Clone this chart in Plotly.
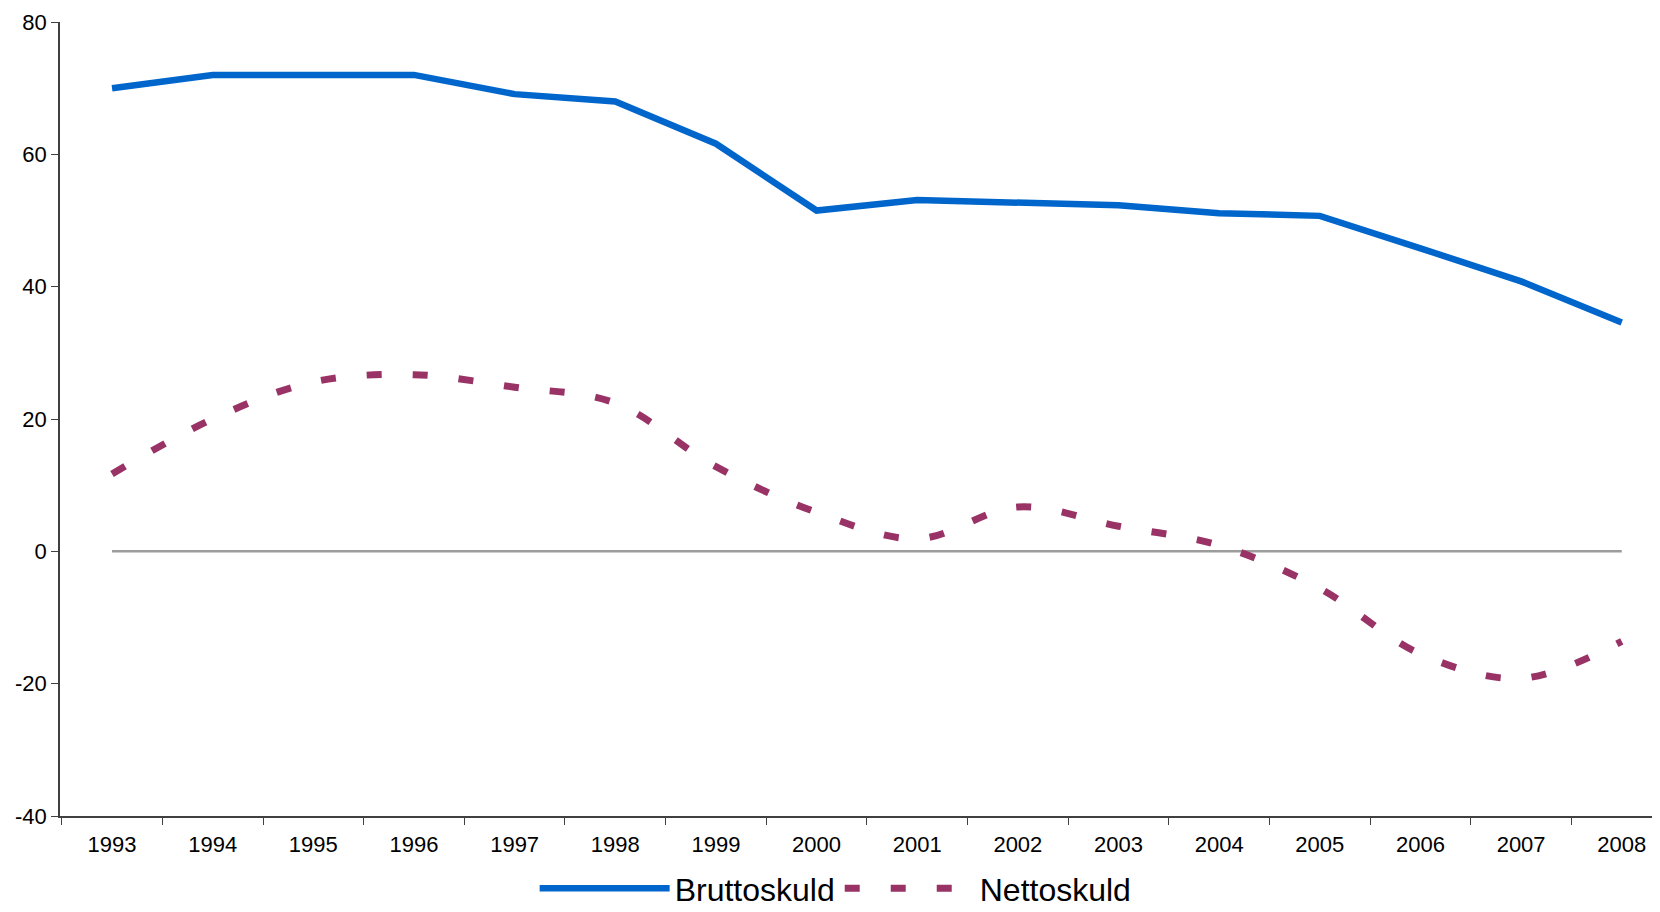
import plotly.graph_objects as go

years = ["1993", "1994", "1995", "1996", "1997", "1998", "1999", "2000",
         "2001", "2002", "2003", "2004", "2005", "2006", "2007", "2008"]
brutto = [70.0, 72.0, 72.0, 72.0, 69.1, 68.0, 61.6, 51.5,
          53.1, 52.7, 52.3, 51.1, 50.7, 45.8, 40.8, 34.6]
netto = [11.7, 20.0, 25.6, 26.7, 24.8, 22.4, 12.8, 5.9,
         1.9, 6.7, 3.8, 0.9, -5.6, -15.5, -19.2, -13.6]
zero_ref = [0] * len(years)
y_ticks = [-40, -20, 0, 20, 40, 60, 80]
y_tick_labels = ["-40", "-20", "0", "20", "40", "60", "80"]

fig = go.Figure()
fig.add_trace(go.Scatter(x=years, y=zero_ref, mode="lines",
                         line=dict(color="#9C9C9C", width=2.5),
                         showlegend=False, hoverinfo="skip"))
fig.add_trace(go.Scatter(x=years, y=brutto, mode="lines", name="Bruttoskuld",
                         line=dict(color="#0066CC", width=6.5)))
fig.add_trace(go.Scatter(x=years, y=netto, mode="lines", name="Nettoskuld",
                         line=dict(color="#993366", width=7, dash="15px,31px",
                                   shape="spline", smoothing=1.0)))

fig.update_layout(
    width=1652, height=904,
    margin=dict(l=52, r=0, t=14, b=96),
    paper_bgcolor="white", plot_bgcolor="white",
    font=dict(family="Liberation Sans, Arial, sans-serif", color="black", size=22),
    showlegend=True,
    legend=dict(orientation="h", xref="container", yref="container",
                x=0.501, xanchor="center", y=0.026, yanchor="middle",
                font=dict(size=32), itemwidth=130, tracegroupgap=0,
                bgcolor="rgba(0,0,0,0)"),
)
fig.update_xaxes(type="category", range=[-0.517, 15.38], showgrid=False,
                 showline=True, linecolor="#404040", linewidth=1.5,
                 ticks="outside", tickson="boundaries", ticklen=7,
                 tickcolor="#404040", tickfont=dict(size=22),
                 ticklabelstandoff=8, zeroline=False)
fig.update_yaxes(range=[-40, 80], tickvals=y_ticks, ticktext=y_tick_labels,
                 showgrid=False, showline=True, linecolor="#404040", linewidth=1.5,
                 ticks="outside", ticklen=7, tickcolor="#404040",
                 tickfont=dict(size=22), zeroline=False)

fig.write_html("out.html")
